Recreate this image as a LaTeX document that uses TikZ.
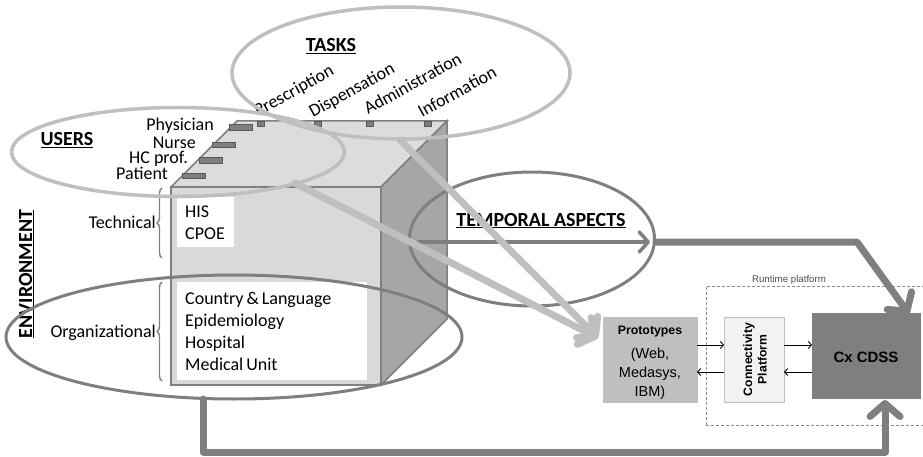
\documentclass[tikz,border=0pt]{standalone}
\usepackage{fontspec}
\setmainfont{Carlito}
\newfontfamily\arialfont{Liberation Sans}
\usetikzlibrary{arrows.meta,shapes.geometric,decorations.pathreplacing,calc}

\definecolor{ringlight}{HTML}{BFBFBF}
\definecolor{ringdark}{HTML}{7F7F7F}
\definecolor{facefront}{HTML}{D9D9D9}
\definecolor{facetop}{HTML}{DCDCDC}
\definecolor{faceside}{HTML}{A6A6A6}
\definecolor{edgegray}{HTML}{808080}
\definecolor{barfill}{HTML}{7F7F7F}
\definecolor{barline}{HTML}{595959}
\definecolor{protofill}{HTML}{BFBFBF}
\definecolor{connfill}{HTML}{F2F2F2}
\definecolor{cdssfill}{HTML}{7F7F7F}

\tikzset{
  face/.style={draw=edgegray, line width=1.5pt},
  whitebox/.style={fill=white, draw=none, anchor=north west, inner sep=0pt},
  bodytext/.style={font=\fontsize{18}{22}\selectfont, inner sep=0pt},
  headtext/.style={font=\fontsize{20}{24}\selectfont\bfseries, inner sep=0pt},
  ringL/.style={ellipse, draw=ringlight, line width=3.5pt, inner sep=0pt},
  ringD/.style={ellipse, draw=ringdark, line width=3pt, inner sep=0pt},
  userbar/.style={fill=barfill, draw=barline, line width=0.6pt, minimum width=23pt, minimum height=5.5pt, inner sep=0pt},
  taskbar/.style={fill=barfill, draw=barline, line width=0.6pt, minimum width=7pt, minimum height=5pt, inner sep=0pt},
  envbrace/.style={draw=edgegray, line width=1.4pt, decorate, decoration={brace, amplitude=5pt}},
  bigflow/.style={draw=ringdark, line width=7pt, line cap=round, line join=round,
    -{Straight Barb[round, length=13pt, width=30pt]}},
  lightflow/.style={draw=ringlight, line width=7pt, line cap=round, line join=round,
    -{Straight Barb[round, length=12pt, width=30pt]}},
  timeflow/.style={draw=ringdark, line width=3.5pt, line cap=round,
    -{Straight Barb[round, length=9pt, width=20pt]}},
  blockbox/.style={draw=ringlight, line width=1pt, inner sep=0pt, anchor=north west},
  protoline/.style={font=\arialfont\fontsize{14.5}{17}\selectfont, anchor=base, inner sep=0pt},
  smallarrow/.style={draw=black, line width=0.9pt, -{Straight Barb[length=3pt, width=7pt]}},
}

\begin{document}
\begin{tikzpicture}[x=1pt, y=-1pt]
\useasboundingbox (0,0) rectangle (923,457);

% ---- the context cube ----
\coordinate (fA) at (171,187);
\coordinate (fB) at (381,187);
\coordinate (fC) at (381,385);
\coordinate (fD) at (171,385);
\coordinate (bA) at (237,121);
\coordinate (bB) at (447,121);
\coordinate (bC) at (447,319);
\filldraw[face, fill=facefront] (fA) -- (fB) -- (fC) -- (fD) -- cycle;
\filldraw[face, fill=facetop] (fA) -- (bA) -- (bB) -- (fB) -- cycle;
\filldraw[face, fill=faceside] (fB) -- (bB) -- (bC) -- (fC) -- cycle;

% white panels on the front face
\node[whitebox, minimum width=57pt, minimum height=50pt] (techpanel) at (177,197) {};
\node[whitebox, minimum width=190pt, minimum height=98pt] (orgpanel) at (177,282) {};

\node[bodytext, anchor=base west] (his) at (185,217) {HIS};
\node[bodytext, anchor=base west] (cpoe) at (185,239) {CPOE};
\node[bodytext, anchor=base west] (country) at (185,304) {Country\,\&\,Language};
\node[bodytext, anchor=base west] (epid) at (185,326) {Epidemiology};
\node[bodytext, anchor=base west] (hosp) at (185,348) {Hospital};
\node[bodytext, anchor=base west] (unit) at (185,370) {Medical\,Unit};

% user markers along the left top edge
\node[userbar] (barphys) at (240.5,127.5) {};
\node[userbar] (barnurse) at (224,145) {};
\node[userbar] (barhc) at (211,160.5) {};
\node[userbar] (barpat) at (193.5,176) {};

\node[bodytext, anchor=base east] (physician) at (214,131) {Physician};
\node[bodytext, anchor=base east] (nurse) at (196,149) {Nurse};
\node[bodytext, anchor=base east] (hcprof) at (188,164) {HC prof.};
\node[bodytext, anchor=base east] (patient) at (168,180) {Patient};

% task markers along the back top edge
\node[taskbar] (tkpres) at (260.5,123.5) {};
\node[taskbar] (tkdisp) at (317.5,123.5) {};
\node[taskbar] (tkadm) at (369.5,123.5) {};
\node[taskbar] (tkinfo) at (427.5,123.5) {};

\node[bodytext, anchor=base west, rotate=29] (prescription) at (258,117) {Prescription};
\node[bodytext, anchor=base west, rotate=29] (dispensation) at (313,118) {Dispensation};
\node[bodytext, anchor=base west, rotate=29] (administration) at (368,115) {Administration};
\node[bodytext, anchor=base west, rotate=29] (information) at (422,118) {Information};

% environment braces and labels
\draw[envbrace] (162,258) -- (162,188);
\draw[envbrace] (162,381) -- (162,282);
\node[bodytext, anchor=base east] (technical) at (156,228) {Technical};
\node[bodytext, anchor=base east] (organizational) at (156,337) {Organizational};
\node[headtext, anchor=base, rotate=90] (environment) at (32,274) {\underline{ENVIRONMENT}};

% ---- runtime platform ----
\node[draw=black!45, dash pattern=on 3pt off 2pt, line width=0.6pt, anchor=north west, minimum width=230pt, minimum height=139pt, inner sep=0pt] (runtime) at (706,286) {};
\node[font=\arialfont\fontsize{9.7}{11}\selectfont, text=black!70, anchor=base] (runtimelabel) at (789,282) {Runtime platform};

\node[blockbox, fill=protofill, minimum width=94pt, minimum height=85pt] (proto) at (603,317) {};
\node[font=\arialfont\bfseries\fontsize{12.3}{14}\selectfont, anchor=base, inner sep=0pt] (prototitle) at (650,334) {Prototypes};
\node[protoline] (protoweb) at (650,358) {(Web,};
\node[protoline] (protomed) at (650,377) {Medasys,};
\node[protoline] (protoibm) at (650,396) {IBM)};

\node[blockbox, fill=connfill, minimum width=60pt, minimum height=85pt] (conn) at (724,317) {};
\node[font=\arialfont\bfseries\fontsize{12.2}{14.5}\selectfont, align=center, rotate=90, inner sep=0pt] (connlabel) at (755,359.5) {Connectivity\\Platform};

\node[blockbox, fill=cdssfill, draw=cdssfill, minimum width=108pt, minimum height=85pt] (cdss) at (812,313) {};
\node[font=\arialfont\bfseries\fontsize{15}{17}\selectfont, inner sep=0pt] (cdsslabel) at (866,357) {Cx CDSS};

\draw[smallarrow] (697,345) -- (724,345);
\draw[smallarrow] (724,372) -- (697,372);
\draw[smallarrow] (784,345) -- (812,345);
\draw[smallarrow] (812,372) -- (784,372);

% ---- perspective ellipses ----
\node[ringL, minimum width=333pt, minimum height=89pt] (users) at (178,152) {};
\node[ringL, minimum width=338pt, minimum height=132pt] (tasks) at (401,73) {};
\node[ringD, minimum width=245pt, minimum height=134pt] (temporal) at (532,239) {};
\node[ringD, minimum width=456pt, minimum height=124pt] (org) at (234,337) {};

\node[headtext, anchor=base] (userslabel) at (67,146) {\underline{USERS}};
\node[headtext, anchor=base] (taskslabel) at (331,52) {\underline{TASKS}};
\node[headtext, anchor=base] (temporallabel) at (541,226) {\underline{TEMPORAL ASPECTS}};

% ---- flows ----
\coordinate (timestart) at (418,242);
\coordinate (timeend) at (650,242);
\draw[timeflow] (timestart) -- (timeend);

\coordinate (timebend) at (857,242);
\coordinate (cdsstop) at (909,314);
\draw[bigflow] (temporal.east |- timestart) -- (timebend) -- (cdsstop);

\coordinate (envstart) at (203,399);
\coordinate (envcorner) at (203,452);
\coordinate (cdssbottom) at (885,400);
\draw[bigflow] (envstart) -- (envcorner) -| (cdssbottom);

\coordinate (userstart) at (295,183);
\coordinate (taskstart) at (400,140);
\coordinate (prototip) at (598,338);
\draw[lightflow] (userstart) -- (prototip);
\draw[lightflow] (taskstart) -- (prototip);
\end{tikzpicture}
\end{document}
